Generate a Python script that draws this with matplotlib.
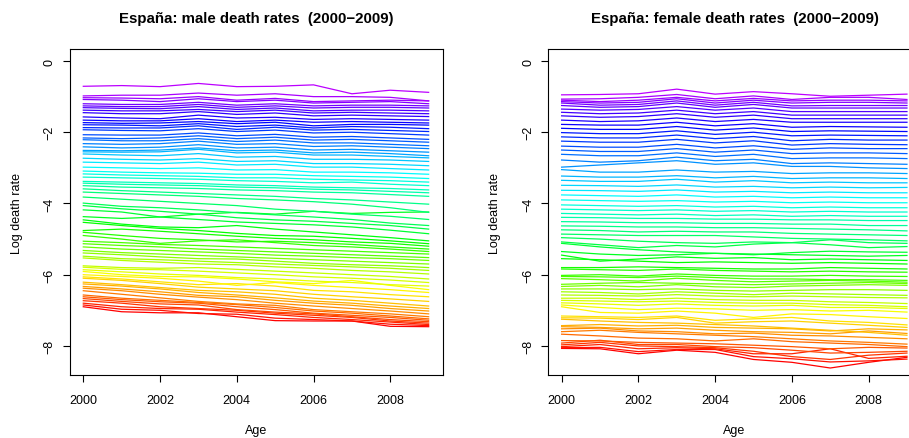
import colorsys
import matplotlib
matplotlib.use("Agg")
import matplotlib.pyplot as plt

plt.rcParams['font.family'] = ['Liberation Sans', 'DejaVu Sans']

years = [2000, 2001, 2002, 2003, 2004, 2005, 2006, 2007, 2008, 2009]

# log death rates, one row per age (youngest first)
male_rates = [
    [-6.90, -7.04, -7.07, -7.07, -7.18, -7.29, -7.30, -7.30, -7.45, -7.46],
    [-6.85, -6.97, -7.00, -7.09, -7.11, -7.22, -7.26, -7.30, -7.39, -7.43],
    [-6.80, -6.90, -6.95, -6.97, -7.05, -7.12, -7.20, -7.26, -7.33, -7.40],
    [-6.73, -6.80, -6.90, -6.95, -7.00, -7.08, -7.14, -7.20, -7.30, -7.36],
    [-6.67, -6.75, -6.82, -6.85, -6.98, -7.05, -7.10, -7.18, -7.26, -7.32],
    [-6.62, -6.70, -6.76, -6.80, -6.90, -6.98, -7.08, -7.14, -7.20, -7.28],
    [-6.57, -6.66, -6.72, -6.78, -6.84, -6.92, -7.02, -7.08, -7.16, -7.24],
    [-6.45, -6.55, -6.65, -6.75, -6.82, -6.86, -6.98, -7.04, -7.10, -7.18],
    [-6.38, -6.45, -6.55, -6.63, -6.70, -6.80, -6.88, -6.95, -7.02, -7.10],
    [-6.33, -6.40, -6.48, -6.58, -6.62, -6.72, -6.80, -6.86, -6.95, -7.02],
    [-6.26, -6.32, -6.40, -6.50, -6.57, -6.65, -6.74, -6.80, -6.88, -6.95],
    [-6.21, -6.28, -6.36, -6.44, -6.48, -6.55, -6.66, -6.72, -6.80, -6.88],
    [-6.10, -6.16, -6.25, -6.35, -6.40, -6.45, -6.55, -6.62, -6.68, -6.75],
    [-6.06, -6.12, -6.20, -6.28, -6.25, -6.32, -6.44, -6.48, -6.56, -6.62],
    [-6.00, -6.05, -6.10, -6.18, -6.30, -6.22, -6.30, -6.36, -6.42, -6.50],
    [-5.91, -6.00, -6.05, -6.06, -6.12, -6.20, -6.25, -6.16, -6.30, -6.42],
    [-5.86, -5.92, -5.98, -6.02, -6.08, -6.12, -6.18, -6.22, -6.28, -6.32],
    [-5.79, -5.85, -5.86, -5.90, -5.95, -6.00, -6.06, -6.10, -6.15, -6.22],
    [-5.75, -5.80, -5.82, -5.80, -5.85, -5.90, -5.95, -6.00, -6.05, -6.12],
    [-5.53, -5.60, -5.65, -5.70, -5.72, -5.78, -5.82, -5.88, -5.92, -5.98],
    [-5.48, -5.55, -5.58, -5.62, -5.66, -5.70, -5.74, -5.78, -5.82, -5.88],
    [-5.39, -5.44, -5.50, -5.55, -5.56, -5.62, -5.68, -5.72, -5.75, -5.80],
    [-5.32, -5.38, -5.42, -5.46, -5.50, -5.54, -5.58, -5.62, -5.66, -5.70],
    [-5.22, -5.28, -5.32, -5.36, -5.40, -5.45, -5.48, -5.52, -5.55, -5.60],
    [-5.13, -5.18, -5.22, -5.28, -5.32, -5.36, -5.40, -5.44, -5.48, -5.52],
    [-5.06, -5.10, -5.15, -5.18, -5.22, -5.26, -5.30, -5.34, -5.38, -5.42],
    [-4.90, -5.00, -5.12, -5.05, -5.02, -5.10, -5.18, -5.22, -5.28, -5.35],
    [-4.81, -4.90, -4.98, -5.02, -5.08, -5.06, -5.10, -5.15, -5.22, -5.28],
    [-4.76, -4.72, -4.78, -4.85, -4.92, -4.98, -5.02, -5.08, -5.12, -5.20],
    [-4.53, -4.62, -4.70, -4.76, -4.84, -4.90, -4.92, -4.98, -5.05, -5.13],
    [-4.46, -4.58, -4.66, -4.68, -4.62, -4.72, -4.80, -4.88, -4.96, -5.05],
    [-4.37, -4.42, -4.38, -4.30, -4.25, -4.30, -4.22, -4.28, -4.25, -4.24],
    [-4.18, -4.24, -4.38, -4.45, -4.52, -4.56, -4.60, -4.66, -4.75, -4.85],
    [-4.06, -4.15, -4.22, -4.30, -4.40, -4.46, -4.50, -4.56, -4.62, -4.72],
    [-3.99, -4.08, -4.12, -4.18, -4.26, -4.32, -4.38, -4.45, -4.55, -4.62],
    [-3.82, -3.88, -3.94, -4.00, -4.06, -4.16, -4.22, -4.30, -4.36, -4.45],
    [-3.68, -3.72, -3.76, -3.80, -3.86, -3.90, -3.95, -4.02, -4.12, -4.25],
    [-3.59, -3.64, -3.68, -3.72, -3.76, -3.80, -3.86, -3.90, -3.96, -4.02],
    [-3.50, -3.54, -3.56, -3.58, -3.62, -3.64, -3.68, -3.70, -3.75, -3.80],
    [-3.43, -3.46, -3.48, -3.50, -3.54, -3.56, -3.60, -3.62, -3.66, -3.70],
    [-3.38, -3.40, -3.42, -3.44, -3.48, -3.50, -3.54, -3.56, -3.58, -3.62],
    [-3.26, -3.28, -3.30, -3.32, -3.36, -3.38, -3.42, -3.40, -3.46, -3.50],
    [-3.17, -3.20, -3.22, -3.24, -3.28, -3.28, -3.32, -3.34, -3.36, -3.40],
    [-3.09, -3.12, -3.14, -3.15, -3.18, -3.18, -3.22, -3.24, -3.26, -3.30],
    [-2.98, -3.00, -3.02, -3.00, -3.06, -3.05, -3.12, -3.12, -3.14, -3.18],
    [-2.84, -2.86, -2.88, -2.84, -2.92, -2.90, -2.98, -2.98, -3.02, -3.06],
    [-2.73, -2.76, -2.78, -2.74, -2.82, -2.80, -2.88, -2.88, -2.90, -2.94],
    [-2.61, -2.64, -2.66, -2.60, -2.70, -2.68, -2.76, -2.76, -2.78, -2.82],
    [-2.55, -2.56, -2.55, -2.48, -2.58, -2.56, -2.64, -2.64, -2.68, -2.72],
    [-2.51, -2.52, -2.50, -2.44, -2.52, -2.50, -2.58, -2.56, -2.60, -2.66],
    [-2.41, -2.44, -2.42, -2.35, -2.44, -2.42, -2.50, -2.48, -2.52, -2.56],
    [-2.32, -2.34, -2.32, -2.25, -2.34, -2.32, -2.40, -2.38, -2.42, -2.46],
    [-2.21, -2.24, -2.24, -2.18, -2.26, -2.22, -2.30, -2.30, -2.34, -2.38],
    [-2.16, -2.18, -2.16, -2.10, -2.18, -2.14, -2.22, -2.20, -2.24, -2.28],
    [-2.07, -2.08, -2.08, -2.02, -2.10, -2.06, -2.14, -2.12, -2.16, -2.20],
    [-1.93, -1.95, -1.96, -1.90, -1.98, -1.94, -2.02, -2.00, -2.04, -2.08],
    [-1.87, -1.88, -1.88, -1.82, -1.92, -1.86, -1.94, -1.92, -1.95, -1.98],
    [-1.79, -1.80, -1.82, -1.76, -1.84, -1.80, -1.88, -1.84, -1.86, -1.90],
    [-1.73, -1.75, -1.74, -1.70, -1.76, -1.72, -1.82, -1.78, -1.78, -1.80],
    [-1.66, -1.68, -1.68, -1.62, -1.70, -1.66, -1.72, -1.70, -1.72, -1.74],
    [-1.57, -1.60, -1.62, -1.52, -1.60, -1.58, -1.64, -1.62, -1.64, -1.66],
    [-1.45, -1.48, -1.48, -1.42, -1.50, -1.46, -1.54, -1.52, -1.54, -1.56],
    [-1.38, -1.40, -1.40, -1.36, -1.42, -1.38, -1.46, -1.44, -1.46, -1.48],
    [-1.31, -1.33, -1.34, -1.28, -1.36, -1.32, -1.40, -1.38, -1.38, -1.40],
    [-1.26, -1.28, -1.28, -1.22, -1.30, -1.26, -1.32, -1.30, -1.30, -1.32],
    [-1.20, -1.22, -1.22, -1.16, -1.24, -1.20, -1.26, -1.24, -1.24, -1.26],
    [-1.08, -1.10, -1.14, -1.06, -1.14, -1.10, -1.18, -1.16, -1.14, -1.20],
    [-1.03, -1.04, -1.06, -1.00, -1.10, -1.05, -1.14, -1.12, -1.10, -1.12],
    [-0.98, -0.96, -0.96, -0.90, -0.96, -0.92, -1.00, -1.00, -1.02, -1.12],
    [-0.71, -0.69, -0.72, -0.63, -0.72, -0.71, -0.67, -0.92, -0.82, -0.88],
]

female_rates = [
    [-8.07, -8.08, -8.22, -8.12, -8.18, -8.38, -8.46, -8.62, -8.46, -8.32],
    [-8.05, -8.04, -8.16, -8.10, -8.10, -8.30, -8.36, -8.45, -8.42, -8.37],
    [-8.02, -7.96, -8.08, -8.05, -8.08, -8.22, -8.22, -8.08, -8.35, -8.29],
    [-7.97, -7.90, -8.00, -8.02, -8.05, -8.15, -8.30, -8.38, -8.26, -8.20],
    [-7.92, -7.84, -7.96, -7.96, -8.02, -8.05, -8.12, -8.20, -8.18, -8.15],
    [-7.85, -7.86, -7.90, -7.92, -7.94, -7.98, -8.02, -8.08, -8.04, -8.06],
    [-7.67, -7.72, -7.78, -7.80, -7.86, -7.80, -7.88, -7.92, -7.96, -8.02],
    [-7.60, -7.56, -7.62, -7.66, -7.70, -7.74, -7.80, -7.86, -7.90, -7.95],
    [-7.52, -7.50, -7.58, -7.60, -7.66, -7.64, -7.70, -7.72, -7.76, -7.80],
    [-7.46, -7.48, -7.52, -7.50, -7.56, -7.60, -7.62, -7.66, -7.58, -7.65],
    [-7.43, -7.40, -7.44, -7.42, -7.48, -7.50, -7.52, -7.58, -7.52, -7.55],
    [-7.25, -7.30, -7.34, -7.36, -7.40, -7.44, -7.50, -7.56, -7.62, -7.70],
    [-7.21, -7.22, -7.26, -7.20, -7.36, -7.32, -7.30, -7.36, -7.42, -7.48],
    [-7.16, -7.18, -7.20, -7.16, -7.28, -7.24, -7.20, -7.30, -7.34, -7.41],
    [-6.90, -7.06, -7.08, -7.02, -7.08, -7.20, -7.10, -7.12, -7.18, -7.23],
    [-6.85, -6.92, -6.98, -6.94, -6.96, -7.00, -6.98, -7.02, -7.00, -7.05],
    [-6.79, -6.82, -6.86, -6.82, -6.86, -6.88, -6.86, -6.92, -6.92, -6.95],
    [-6.72, -6.74, -6.76, -6.74, -6.78, -6.80, -6.80, -6.84, -6.86, -6.90],
    [-6.66, -6.66, -6.70, -6.66, -6.70, -6.72, -6.72, -6.76, -6.78, -6.81],
    [-6.57, -6.58, -6.60, -6.56, -6.60, -6.62, -6.60, -6.62, -6.64, -6.65],
    [-6.48, -6.50, -6.54, -6.48, -6.52, -6.56, -6.52, -6.54, -6.56, -6.58],
    [-6.40, -6.40, -6.42, -6.40, -6.44, -6.46, -6.44, -6.42, -6.42, -6.44],
    [-6.33, -6.30, -6.34, -6.28, -6.34, -6.36, -6.32, -6.30, -6.28, -6.30],
    [-6.27, -6.24, -6.22, -6.24, -6.26, -6.28, -6.26, -6.24, -6.22, -6.25],
    [-6.11, -6.14, -6.18, -6.10, -6.16, -6.20, -6.18, -6.16, -6.18, -6.21],
    [-6.05, -6.06, -6.08, -6.04, -6.08, -6.12, -6.12, -6.14, -6.14, -6.16],
    [-6.02, -6.00, -6.04, -5.98, -6.02, -6.04, -6.04, -6.02, -6.04, -6.05],
    [-5.84, -5.86, -5.88, -5.84, -5.88, -5.90, -5.92, -5.90, -5.92, -5.93],
    [-5.80, -5.80, -5.78, -5.80, -5.82, -5.84, -5.84, -5.80, -5.82, -5.84],
    [-5.55, -5.58, -5.62, -5.66, -5.64, -5.66, -5.68, -5.66, -5.68, -5.70],
    [-5.45, -5.62, -5.56, -5.50, -5.54, -5.52, -5.58, -5.56, -5.58, -5.60],
    [-5.35, -5.42, -5.46, -5.44, -5.40, -5.42, -5.44, -5.46, -5.48, -5.46],
    [-5.12, -5.22, -5.30, -5.36, -5.40, -5.44, -5.38, -5.34, -5.36, -5.37],
    [-5.08, -5.16, -5.24, -5.18, -5.22, -5.14, -5.10, -5.16, -5.24, -5.21],
    [-4.96, -5.00, -5.06, -5.10, -5.12, -5.08, -5.10, -5.02, -5.10, -5.12],
    [-4.86, -4.88, -4.90, -4.90, -4.90, -4.94, -4.98, -5.00, -5.02, -5.05],
    [-4.74, -4.76, -4.80, -4.78, -4.80, -4.80, -4.84, -4.86, -4.88, -4.90],
    [-4.63, -4.64, -4.66, -4.66, -4.68, -4.68, -4.70, -4.72, -4.74, -4.77],
    [-4.51, -4.52, -4.54, -4.54, -4.56, -4.56, -4.58, -4.58, -4.62, -4.62],
    [-4.39, -4.40, -4.42, -4.42, -4.44, -4.44, -4.46, -4.46, -4.48, -4.48],
    [-4.28, -4.30, -4.32, -4.30, -4.34, -4.32, -4.36, -4.34, -4.36, -4.36],
    [-4.16, -4.18, -4.20, -4.18, -4.22, -4.20, -4.24, -4.22, -4.24, -4.24],
    [-4.04, -4.06, -4.08, -4.06, -4.10, -4.08, -4.12, -4.10, -4.12, -4.12],
    [-3.90, -3.92, -3.94, -3.92, -3.96, -3.94, -3.98, -3.96, -3.98, -3.98],
    [-3.76, -3.78, -3.80, -3.76, -3.82, -3.80, -3.84, -3.82, -3.84, -3.84],
    [-3.63, -3.64, -3.66, -3.62, -3.68, -3.66, -3.70, -3.68, -3.70, -3.70],
    [-3.49, -3.50, -3.52, -3.48, -3.54, -3.52, -3.56, -3.54, -3.56, -3.55],
    [-3.35, -3.38, -3.38, -3.32, -3.40, -3.36, -3.42, -3.40, -3.42, -3.42],
    [-3.23, -3.26, -3.26, -3.22, -3.28, -3.24, -3.30, -3.28, -3.28, -3.30],
    [-3.05, -3.12, -3.12, -3.06, -3.12, -3.10, -3.16, -3.14, -3.14, -3.16],
    [-2.98, -2.92, -2.86, -2.80, -2.90, -2.86, -2.96, -2.96, -3.00, -3.02],
    [-2.78, -2.84, -2.80, -2.70, -2.80, -2.76, -2.88, -2.86, -2.88, -2.90],
    [-2.62, -2.66, -2.66, -2.58, -2.68, -2.62, -2.74, -2.72, -2.72, -2.74],
    [-2.50, -2.54, -2.54, -2.46, -2.56, -2.50, -2.60, -2.58, -2.58, -2.60],
    [-2.39, -2.42, -2.42, -2.34, -2.44, -2.38, -2.48, -2.44, -2.46, -2.46],
    [-2.25, -2.28, -2.28, -2.20, -2.30, -2.24, -2.36, -2.32, -2.34, -2.35],
    [-2.13, -2.16, -2.16, -2.08, -2.18, -2.12, -2.24, -2.20, -2.22, -2.22],
    [-2.01, -2.04, -2.04, -1.96, -2.06, -2.00, -2.10, -2.08, -2.09, -2.10],
    [-1.89, -1.92, -1.92, -1.84, -1.94, -1.88, -1.98, -1.96, -1.97, -1.98],
    [-1.78, -1.80, -1.80, -1.72, -1.82, -1.76, -1.86, -1.84, -1.85, -1.86],
    [-1.66, -1.70, -1.68, -1.60, -1.70, -1.64, -1.72, -1.72, -1.72, -1.72],
    [-1.54, -1.58, -1.56, -1.48, -1.58, -1.52, -1.62, -1.62, -1.62, -1.62],
    [-1.44, -1.48, -1.46, -1.38, -1.48, -1.42, -1.52, -1.52, -1.52, -1.52],
    [-1.35, -1.38, -1.36, -1.28, -1.38, -1.32, -1.42, -1.42, -1.42, -1.42],
    [-1.25, -1.30, -1.28, -1.18, -1.30, -1.22, -1.32, -1.32, -1.32, -1.32],
    [-1.18, -1.24, -1.22, -1.12, -1.24, -1.16, -1.26, -1.25, -1.25, -1.25],
    [-1.14, -1.18, -1.16, -1.06, -1.18, -1.10, -1.18, -1.16, -1.16, -1.18],
    [-1.10, -1.14, -1.10, -1.02, -1.12, -1.05, -1.12, -1.10, -1.10, -1.12],
    [-1.07, -1.06, -1.02, -0.94, -1.06, -0.98, -1.08, -1.02, -1.02, -1.08],
    [-0.95, -0.94, -0.92, -0.79, -0.93, -0.86, -0.92, -0.99, -0.96, -0.93],
]

titles = ["España: male death rates  (2000\u22122009)",
          "España: female death rates  (2000\u22122009)"]
xticks = [2000, 2002, 2004, 2006, 2008]
yticks = [0, -2, -4, -6, -8]

fig = plt.figure(figsize=(9.09, 4.39), dpi=100)

# second panel runs past the right edge of the figure
panels = [(0.0767, male_rates, titles[0]), (0.6029, female_rates, titles[1])]

for left, rates, title in panels:
    ax = fig.add_axes([left, 0.1424, 0.4103, 0.7437])
    n = len(rates)
    for i, row in enumerate(rates):
        col = colorsys.hsv_to_rgb(i / (n * 1.25), 1.0, 1.0)
        ax.plot(years, row, color=col, lw=0.9)

    ax.set_xlim(1999.646, 2009.366)
    ax.set_ylim(-8.83, 0.337)
    ax.set_xticks(xticks)
    ax.set_yticks(yticks)
    ax.tick_params(direction="out", length=5, width=0.8, labelsize=9, pad=8)
    ax.tick_params(axis="y", labelrotation=90, pad=5)
    for lab in ax.get_yticklabels():
        lab.set_va("center")
    for sp in ax.spines.values():
        sp.set_linewidth(0.8)

    ax.text(0.5, 1.095, title, transform=ax.transAxes, ha="center",
            va="center", fontsize=10.8, fontweight="bold")
    ax.text(0.5, -0.167, "Age", transform=ax.transAxes, ha="center",
            va="center", fontsize=9)
    ax.text(-0.141, 0.5, "Log death rate", transform=ax.transAxes,
            ha="center", va="center", rotation=90, fontsize=9)

fig.savefig("out.png", dpi=100)
